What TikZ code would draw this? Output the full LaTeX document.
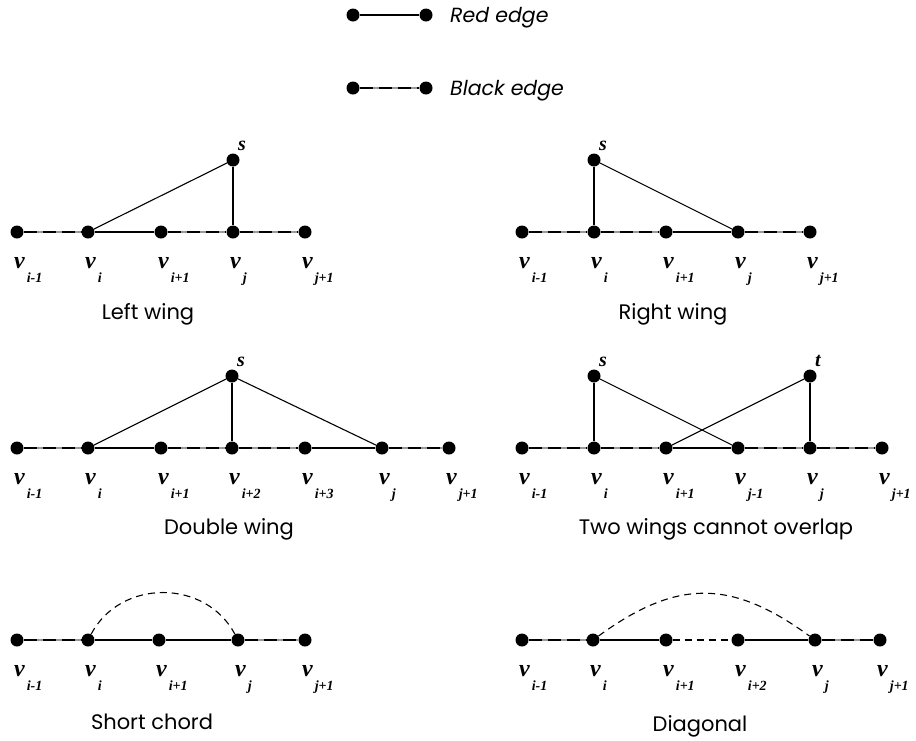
\documentclass[tikz,border=0pt]{standalone}
\usepackage{fontspec}
\setmainfont{Poppins}
\newfontfamily\vfnt{Liberation Serif}
\newcommand\vlab[1]{{\vfnt\bfseries\itshape\fontsize{24}{24}\selectfont v}\hspace{2pt}\raisebox{-14pt}{\vfnt\bfseries\itshape\fontsize{14}{14}\selectfont #1}}
\tikzset{
  dot/.style={circle,fill=black,inner sep=0pt,minimum size=13pt},
  rededge/.style={line width=1.8pt},
  blkedge/.style={line width=1.8pt,draw=black!40,postaction={draw=black,line width=1.8pt,dash pattern=on 13pt off 6pt}},
  thinedge/.style={line width=1.1pt},
  chord/.style={line width=1.1pt,dash pattern=on 7pt off 5pt},
  vlabel/.style={anchor=base west,inner sep=0pt,xshift=-3pt,yshift=-36pt},
  slabel/.style={anchor=base west,inner sep=0pt,xshift=5pt,yshift=10pt,font=\vfnt\bfseries\itshape\fontsize{20}{20}\selectfont},
  caption/.style={anchor=base,inner sep=0pt,font=\fontsize{21}{21}\selectfont},
  legtext/.style={anchor=base west,inner sep=0pt,font=\itshape\fontsize{20.5}{20.5}\selectfont}
}
\begin{document}
\begin{tikzpicture}[x=1pt,y=-1pt]
\useasboundingbox (0,0) rectangle (916,740);
% legend
\node[dot] (l1a) at (353,15) {};
\node[dot] (l1b) at (426,15) {};
\node[dot] (l2a) at (353,88) {};
\node[dot] (l2b) at (426,88) {};
\draw[rededge] (l1a) -- (l1b);
\draw[blkedge] (l2a) -- (l2b);
\node[legtext] (lt1) at (450,22) {Red edge};
\node[legtext] (lt2) at (450,95) {Black edge};

% ---- Left wing
\foreach \n/\x/\s in {0/17/i-1,1/88/i,2/161/i+1,3/233/j,4/305/j+1}{
  \node[dot] (a\n) at (\x,232) {};
  \node[vlabel] (a\n l) at (\x,232) {\vlab{\s}};
}
\node[dot] (as) at (233,160) {};
\node[slabel] (asl) at (233,160) {s};
\draw[blkedge] (a0) -- (a1);
\draw[rededge] (a1) -- (a2);
\draw[blkedge] (a2) -- (a3);
\draw[blkedge] (a3) -- (a4);
\draw[rededge] (as) -- (a3);
\draw[thinedge] (as) -- (a1);
\node[caption] (capa) at (148,319) {Left wing};

% ---- Right wing
\foreach \n/\x/\s in {0/522/i-1,1/594/i,2/666/i+1,3/738/j,4/810/j+1}{
  \node[dot] (b\n) at (\x,232) {};
  \node[vlabel] (b\n l) at (\x,232) {\vlab{\s}};
}
\node[dot] (bs) at (594,160) {};
\node[slabel] (bsl) at (594,160) {s};
\draw[blkedge] (b0) -- (b1);
\draw[blkedge] (b1) -- (b2);
\draw[rededge] (b2) -- (b3);
\draw[blkedge] (b3) -- (b4);
\draw[rededge] (bs) -- (b1);
\draw[thinedge] (bs) -- (b3);
\node[caption] (capb) at (673,319) {Right wing};

% ---- Double wing
\foreach \n/\x/\s in {0/17/i-1,1/88/i,2/161/i+1,3/232/i+2,4/305/i+3,5/382/j,6/449/j+1}{
  \node[dot] (c\n) at (\x,448) {};
  \node[vlabel] (c\n l) at (\x,448) {\vlab{\s}};
}
\node[dot] (cs) at (232,376) {};
\node[slabel] (csl) at (232,376) {s};
\draw[blkedge] (c0) -- (c1);
\draw[rededge] (c1) -- (c2);
\draw[blkedge] (c2) -- (c3);
\draw[blkedge] (c3) -- (c4);
\draw[rededge] (c4) -- (c5);
\draw[blkedge] (c5) -- (c6);
\draw[rededge] (cs) -- (c3);
\draw[thinedge] (cs) -- (c1);
\draw[thinedge] (cs) -- (c5);
\node[caption] (capc) at (229,534) {Double wing};

% ---- Two wings cannot overlap
\foreach \n/\x/\s in {0/522/i-1,1/594/i,2/666/i+1,3/738/j-1,4/810/j,5/882/j+1}{
  \node[dot] (d\n) at (\x,448) {};
  \node[vlabel] (d\n l) at (\x,448) {\vlab{\s}};
}
\node[dot] (ds) at (594,376) {};
\node[slabel] (dsl) at (594,376) {s};
\node[dot] (dt) at (810,376) {};
\node[slabel] (dtl) at (810,376) {t};
\draw[blkedge] (d0) -- (d1);
\draw[blkedge] (d1) -- (d2);
\draw[rededge] (d2) -- (d3);
\draw[blkedge] (d3) -- (d4);
\draw[blkedge] (d4) -- (d5);
\draw[rededge] (ds) -- (d1);
\draw[rededge] (dt) -- (d4);
\draw[thinedge] (ds) -- (d3);
\draw[thinedge] (dt) -- (d2);
\node[caption] (capd) at (716,534) {Two wings cannot overlap};

% ---- Short chord
\foreach \n/\x/\s in {0/17/i-1,1/88/i,2/159/i+1,3/238/j,4/305/j+1}{
  \node[dot] (e\n) at (\x,640) {};
  \node[vlabel] (e\n l) at (\x,640) {\vlab{\s}};
}
\draw[blkedge] (e0) -- (e1);
\draw[rededge] (e1) -- (e2);
\draw[rededge] (e2) -- (e3);
\draw[blkedge] (e3) -- (e4);
\draw[chord] (e1) to[out=62,in=118,looseness=1.12] (e3);
\node[caption] (cape) at (152,729) {Short chord};

% ---- Diagonal
\foreach \n/\x/\s in {0/522/i-1,1/593/i,2/666/i+1,3/738/i+2,4/815/j,5/880/j+1}{
  \node[dot] (f\n) at (\x,640) {};
  \node[vlabel] (f\n l) at (\x,640) {\vlab{\s}};
}
\draw[blkedge] (f0) -- (f1);
\draw[rededge] (f1) -- (f2);
\draw[chord,line width=1.3pt] (f2) -- (f3);
\draw[rededge] (f3) -- (f4);
\draw[blkedge] (f4) -- (f5);
\draw[chord] (f1) to[out=36,in=144,looseness=1.18] (f4);
\node[caption] (capf) at (700,731) {Diagonal};
\end{tikzpicture}
\end{document}
